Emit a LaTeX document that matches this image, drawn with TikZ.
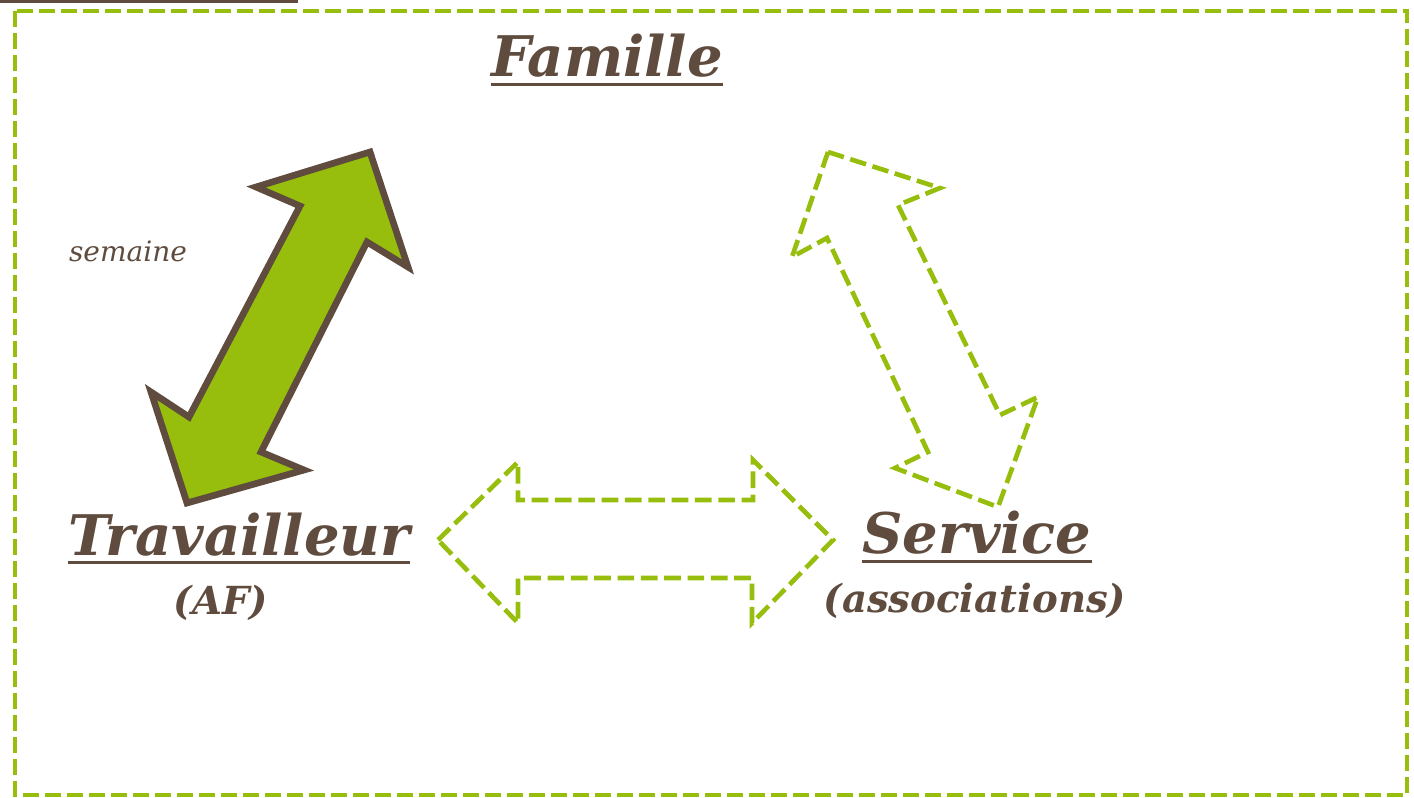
\documentclass[tikz,border=0pt]{standalone}
\usepackage{fontspec}
\setmainfont{DejaVu Serif}
\usetikzlibrary{positioning}
\definecolor{vert}{HTML}{97BE0D}
\definecolor{brun}{HTML}{5F4C3E}
\tikzset{
	titre/.style={text=brun, inner sep=0pt, anchor=base, font=\bfseries\itshape\fontsize{42}{50}\selectfont},
	soustitre/.style={text=brun, inner sep=0pt, anchor=base, font=\bfseries\itshape\fontsize{29}{35}\selectfont},
	petit/.style={text=brun, inner sep=0pt, anchor=base, font=\itshape\fontsize{21}{25}\selectfont},
	souligne/.style={draw=brun, line width=2.25pt},
	cadre/.style={draw=vert, line width=3.3pt, dash pattern=on 12pt off 4.5pt},
	flechevide/.style={draw=vert, line width=3.5pt, dash pattern=on 12.5pt off 5pt, line join=miter},
	flechepleine/.style={draw=brun, fill=vert, line width=5pt, line join=miter}
}

\begin{document}
\begin{tikzpicture}[x=0.75pt, y=-0.75pt]
	\useasboundingbox (0,0) rectangle (1414,797);
	\fill[brun] (0,0) rectangle (298,3);
	\draw[cadre] (15,11) rectangle (1407,795);
	% titres
	\node[titre] (fam) at (607,76) {Famille};
	\node[titre] (trav) at (239,555) {Travailleur};
	\node[titre] (serv) at (977,553) {Service};
	\draw[souligne] ([yshift=-6.5pt]fam.base west) -- ([yshift=-6.5pt]fam.base east);
	\draw[souligne] ([yshift=-5.5pt]trav.base west) -- ([yshift=-5.5pt]trav.base east);
	\draw[souligne] ([yshift=-6.5pt]serv.base west) -- ([yshift=-6.5pt]serv.base east);
	\node[soustitre] (af) at (221,614) {(AF)};
	\node[soustitre] (assoc) at (975,612) {(associations)};
	\node[petit] (sem) at (128,261) {semaine};
	% fleche travailleur - famille
	\draw[flechepleine] (370,152) -- (408,267) -- (367,242) -- (261,452) -- (304,470)
		-- (187,503) -- (151,392) -- (189,417) -- (300,206) -- (256,187) -- cycle;
	% fleche famille - service
	\draw[flechevide] (828,152) -- (940,188) -- (898,205) -- (1000,415) -- (1038,397)
		-- (998,507) -- (895,468) -- (928,452) -- (827,238) -- (792,257) -- cycle;
	% fleche travailleur - service
	\draw[flechevide] (438,540) -- (518,462) -- (518,500) -- (753,500) -- (753,460)
		-- (833,540) -- (752,623) -- (752,578) -- (518,578) -- (518,623) -- cycle;
\end{tikzpicture}
\end{document}
